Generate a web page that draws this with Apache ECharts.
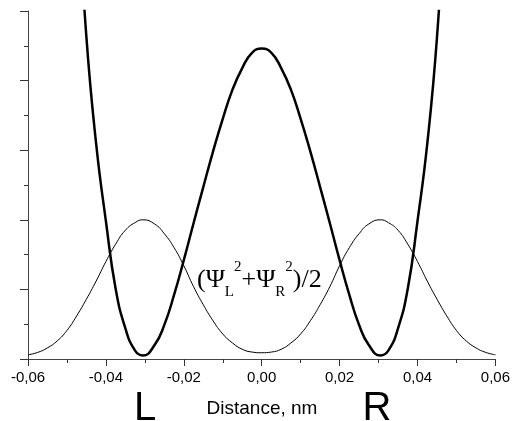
<!DOCTYPE html>
<html><head><meta charset="utf-8">
<script src="https://cdn.jsdelivr.net/npm/echarts@6/dist/echarts.min.js"></script>
<style>html,body{margin:0;padding:0;background:#fff}#c{width:513px;height:421px}</style>
</head><body><div id="c"></div>
<script>
// Thin curve: (ΨL² + ΨR²)/2
const thinX = [-0.06,-0.0575,-0.055,-0.0525,-0.05,-0.0475,-0.045,-0.0425,-0.04,-0.0375,-0.035,-0.0325,-0.0305,-0.0275,-0.025,-0.0225,-0.02,-0.0175,-0.015,-0.0125,-0.01,-0.0075,-0.005,-0.0025,
  0,0.0025,0.005,0.0075,0.01,0.0125,0.015,0.0175,0.02,0.0225,0.025,0.0275,0.0305,0.0325,0.035,0.0375,0.04,0.0425,0.045,0.0475,0.05,0.0525,0.055,0.0575,0.06];
const thinY = [0.06,0.095,0.16,0.26,0.41,0.62,0.86,1.12,1.40,1.65,1.85,1.96,2.00,1.94,1.80,1.60,1.34,1.04,0.78,0.55,0.36,0.23,0.14,0.10,
  0.09,0.10,0.14,0.23,0.36,0.55,0.78,1.04,1.34,1.60,1.80,1.94,2.00,1.96,1.85,1.65,1.40,1.12,0.86,0.62,0.41,0.26,0.16,0.095,0.06];
// Thick curve: double-well potential
const thickX = [-0.0475,-0.045,-0.0425,-0.04,-0.0375,-0.035,-0.0325,-0.0305,-0.0275,-0.025,-0.0225,-0.02,-0.0175,-0.015,-0.0125,-0.01,-0.0075,-0.005,-0.0025,
  0,0.0025,0.005,0.0075,0.01,0.0125,0.015,0.0175,0.02,0.0225,0.025,0.0275,0.0305,0.0325,0.035,0.0375,0.04,0.0425,0.045,0.0475];
const thickY = [6.9,4.62,3.09,1.98,1.01,0.44,0.12,0.05,0.20,0.49,0.92,1.42,1.95,2.47,2.98,3.45,3.87,4.18,4.40,
  4.46,4.40,4.18,3.87,3.45,2.98,2.47,1.95,1.42,0.92,0.49,0.20,0.05,0.12,0.44,1.01,1.98,3.09,4.62,6.9];
const xAxisName = 'Distance, nm';

const thinData = thinX.map((x, i) => [x, thinY[i]]);
const thickData = thickX.map((x, i) => [x, thickY[i]]);

const chart = echarts.init(document.getElementById('c'), null, {renderer: 'canvas'});
chart.setOption({
  animation: false,
  backgroundColor: '#fff',
  grid: {left: 28, right: 17, top: 11, bottom: 62},
  xAxis: {
    type: 'value', min: -0.06, max: 0.06, interval: 0.02,
    splitLine: {show: false},
    axisLine: {onZero: false, lineStyle: {color: '#444', width: 1}},
    axisTick: {inside: false, length: 7, lineStyle: {color: '#333'}},
    minorTick: {show: true, splitNumber: 2, length: 4, lineStyle: {color: '#333'}},
    axisLabel: {
      margin: 11, color: '#000', fontFamily: 'Liberation Sans', fontSize: 15,
      formatter: v => { if (Math.abs(v) < 1e-9) v = 0; return v.toFixed(2).replace('.', ','); }
    }
  },
  yAxis: {
    type: 'value', min: 0, max: 5, interval: 1,
    splitLine: {show: false},
    axisLine: {show: true, onZero: false, lineStyle: {color: '#444', width: 1}},
    axisTick: {show: true, inside: false, length: 8, lineStyle: {color: '#333'}},
    minorTick: {show: true, splitNumber: 2, length: 4, lineStyle: {color: '#333'}},
    axisLabel: {show: false}
  },
  series: [
    {type: 'line', data: thinData, smooth: true, showSymbol: false, clip: true,
     lineStyle: {color: '#000', width: 1}},
    {type: 'line', data: thickData, smooth: true, showSymbol: false, clip: true,
     lineStyle: {color: '#000', width: 2.5}}
  ],
  graphic: [
    {type: 'text', x: 262, y: 399, style: {text: xAxisName, fontFamily: 'Liberation Sans', fontSize: 19, fill: '#000', align: 'center', verticalAlign: 'top'}},
    {type: 'text', x: 145, y: 409, style: {text: 'L', fontFamily: 'Liberation Sans', fontSize: 40, fill: '#000', align: 'center', verticalAlign: 'middle'}},
    {type: 'text', x: 377, y: 409, style: {text: 'R', fontFamily: 'Liberation Sans', fontSize: 40, fill: '#000', align: 'center', verticalAlign: 'middle'}},
    {type: 'text', x: 197, y: 260, style: {
      text: '{m|(Ψ}{s|L}{p|2}{m|+Ψ}{s|R}{p|2}{m|)/2}',
      align: 'left', verticalAlign: 'top', fill: '#000',
      rich: {
        m: {fontFamily: 'Liberation Serif', fontSize: 26, lineHeight: 40, fill: '#000'},
        s: {fontFamily: 'Liberation Serif', fontSize: 15, lineHeight: 20, verticalAlign: 'bottom', fill: '#000'},
        p: {fontFamily: 'Liberation Serif', fontSize: 15, lineHeight: 22, verticalAlign: 'top', fill: '#000'}
      }
    }}
  ]
});
</script></body></html>
